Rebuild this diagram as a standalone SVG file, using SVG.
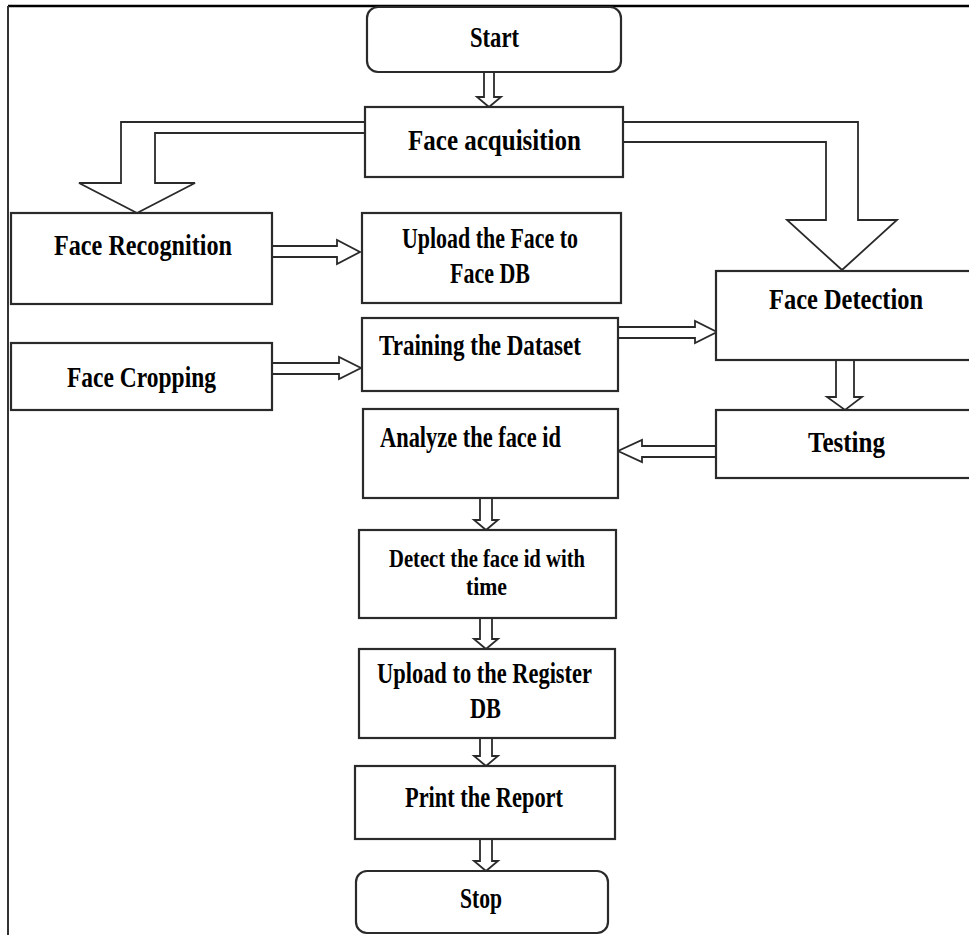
<svg xmlns="http://www.w3.org/2000/svg" width="969" height="935" viewBox="0 0 969 935">
<style>
.box{fill:#fff;stroke:#2a2a2a;stroke-width:2.2}
.arr{fill:#fff;stroke:#2a2a2a;stroke-width:1.8;stroke-linejoin:miter}
.t{font-family:"Liberation Serif","Times New Roman",serif;font-weight:bold;font-size:29px;fill:#000;text-anchor:start}
.s{font-size:25px}
</style>
<rect x="0" y="0" width="969" height="935" fill="#fff"/>
<g id="frame">
<line x1="8" y1="6" x2="969" y2="6" stroke="#000" stroke-width="2.5"/>
<line x1="8" y1="6" x2="8" y2="935" stroke="#333" stroke-width="2"/>
</g>
<g id="connectors">
<polygon class="arr" points="484,72 494,72 494,97 501,97 489,107 477,97 484,97"/>
<polygon class="arr" points="365,122 121,122 121,183 79,183 137,213 195,183 155,183 155,133 365,133"/>
<polygon class="arr" points="623,122 858,122 858,220 897,220 842,270 787,220 826,220 826,142 623,142"/>
<polygon class="arr" points="272,246 337,246 337,240 360,252 337,264 337,257 272,257"/>
<polygon class="arr" points="272,363 339,363 339,357 361,368 339,379 339,374 272,374"/>
<polygon class="arr" points="618,327 695,327 695,321 717,332 695,343 695,338 618,338"/>
<polygon class="arr" points="836,360 854,360 854,397 862,397 845,410 827,397 836,397"/>
<polygon class="arr" points="716,446 642,446 642,440 618,451 642,462 642,457 716,457"/>
<polygon class="arr" points="480,498 492,498 492,520 498,520 486,530 474,520 480,520"/>
<polygon class="arr" points="480,618 492,618 492,639 498,639 486,649 474,639 480,639"/>
<polygon class="arr" points="480,738 492,738 492,756 498,756 486,766 474,756 480,756"/>
<polygon class="arr" points="480,839 492,839 492,861 498,861 486,871 474,861 480,861"/>
</g>
<g id="start">
<rect class="box" x="367" y="7" width="254" height="65" rx="11"/>
<text class="t" x="470" y="47" textLength="49" lengthAdjust="spacingAndGlyphs">Start</text>
</g>
<g id="face-acquisition">
<rect class="box" x="365" y="107" width="258" height="70"/>
<text class="t" x="408" y="150" textLength="173" lengthAdjust="spacingAndGlyphs">Face  acquisition</text>
</g>
<g id="face-recognition">
<rect class="box" x="11" y="213" width="261" height="91"/>
<text class="t" x="54" y="255" textLength="178" lengthAdjust="spacingAndGlyphs">Face  Recognition</text>
</g>
<g id="upload-face">
<rect class="box" x="362" y="213" width="259" height="90"/>
<text class="t" x="402" y="248" textLength="176" lengthAdjust="spacingAndGlyphs">Upload the Face to</text>
<text class="t" x="450" y="283" textLength="80" lengthAdjust="spacingAndGlyphs">Face DB</text>
</g>
<g id="face-detection">
<rect class="box" x="716" y="271" width="262" height="89"/>
<text class="t" x="769" y="309" textLength="154" lengthAdjust="spacingAndGlyphs">Face  Detection</text>
</g>
<g id="training">
<rect class="box" x="362" y="318" width="256" height="73"/>
<text class="t" x="379" y="355" textLength="202" lengthAdjust="spacingAndGlyphs">Training the Dataset</text>
</g>
<g id="face-cropping">
<rect class="box" x="11" y="343" width="261" height="67"/>
<text class="t" x="67" y="387" textLength="149" lengthAdjust="spacingAndGlyphs">Face  Cropping</text>
</g>
<g id="testing">
<rect class="box" x="716" y="410" width="262" height="68"/>
<text class="t" x="808" y="452" textLength="77" lengthAdjust="spacingAndGlyphs">Testing</text>
</g>
<g id="analyze">
<rect class="box" x="363" y="409" width="255" height="89"/>
<text class="t" x="380" y="447" textLength="181" lengthAdjust="spacingAndGlyphs">Analyze the face id</text>
</g>
<g id="detect-time">
<rect class="box" x="359" y="530" width="257" height="88"/>
<text class="t s" x="389" y="567" textLength="196" lengthAdjust="spacingAndGlyphs">Detect the face id with</text>
<text class="t s" x="466" y="595" textLength="41" lengthAdjust="spacingAndGlyphs">time</text>
</g>
<g id="upload-register">
<rect class="box" x="359" y="649" width="256" height="89"/>
<text class="t" x="377" y="683" textLength="215" lengthAdjust="spacingAndGlyphs">Upload  to the Register</text>
<text class="t" x="470" y="718" textLength="31" lengthAdjust="spacingAndGlyphs">DB</text>
</g>
<g id="print-report">
<rect class="box" x="355" y="766" width="260" height="73"/>
<text class="t" x="405" y="807" textLength="158" lengthAdjust="spacingAndGlyphs">Print the Report</text>
</g>
<g id="stop">
<rect class="box" x="356" y="871" width="252" height="62" rx="11"/>
<text class="t" x="460" y="908" textLength="42" lengthAdjust="spacingAndGlyphs">Stop</text>
</g>
</svg>
